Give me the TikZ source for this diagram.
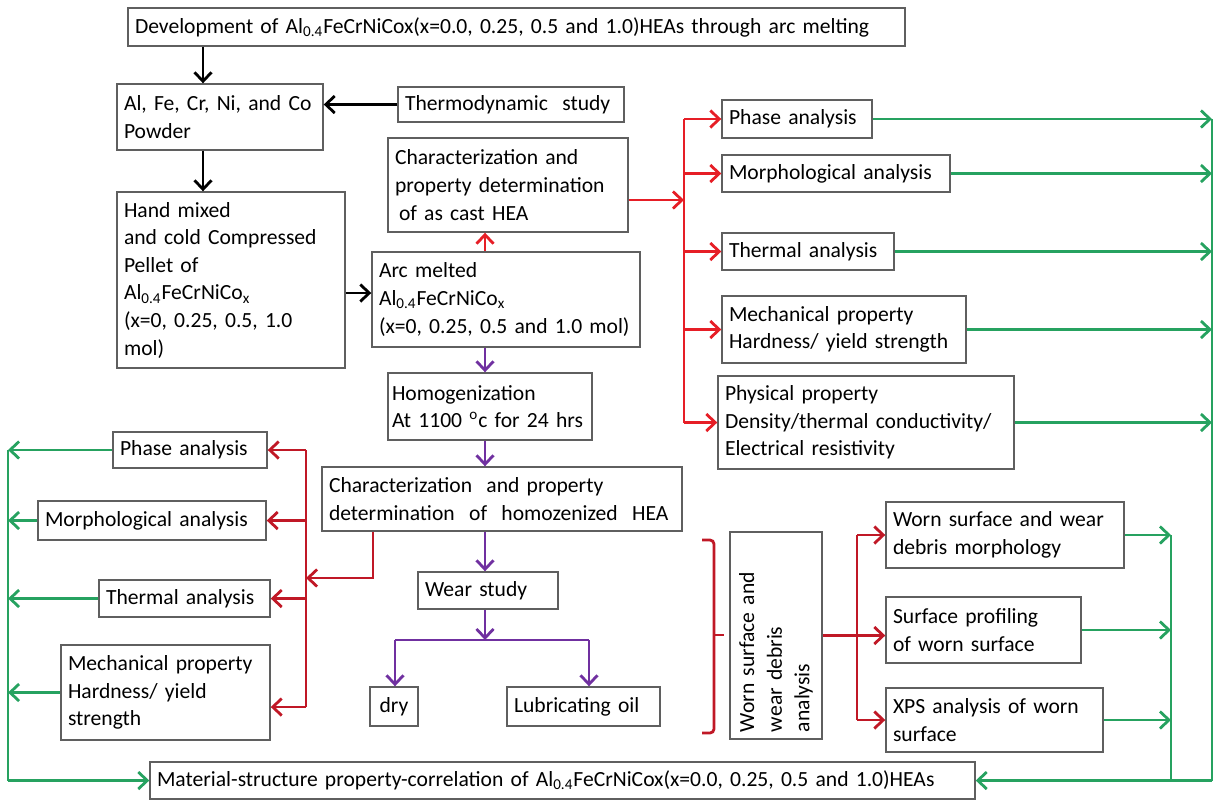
\documentclass[tikz,border=0pt]{standalone}
\usepackage{fontspec}
\setmainfont{Carlito}
\usetikzlibrary{arrows.meta,calc}
\definecolor{grn}{RGB}{38,162,96}
\definecolor{rd}{RGB}{230,30,38}
\definecolor{drd}{RGB}{192,24,38}
\definecolor{pur}{RGB}{112,48,160}
\definecolor{bord}{RGB}{95,95,95}
\newcommand{\mybox}[7][]{%
  \pgfmathsetmacro{\bw}{(#5-#3)*0.5}%
  \pgfmathsetmacro{\bh}{(#6-#4)*0.5}%
  \pgfmathsetmacro{\tw}{\bw-7}%
  \node[box,minimum width=\bw pt,minimum height=\bh pt,text width=\tw pt,#1] (#2) at ({(#3+#5)/2},{(#4+#6)/2}) {#7};%
}
\begin{document}
\begin{tikzpicture}[x=0.5pt,y=-0.5pt,
  box/.style={draw=bord,fill=white,line width=0.7pt,inner xsep=3.5pt,inner ysep=1pt,align=left,font=\fontsize{10.8}{13.8}\selectfont},
  tip/.style={-{Straight Barb[length=4.5pt,width=8.5pt]}},
  blk/.style={line width=1.4pt,black,tip},
  rdl/.style={line width=1.4pt,rd},
  rdc/.style={rdl,tip},
  drl/.style={line width=1.4pt,drd},
  drc/.style={drl,tip},
  purl/.style={line width=1.4pt,pur},
  purc/.style={purl,tip},
  grl/.style={line width=1.4pt,grn},
  grc/.style={grl,tip}]
\useasboundingbox (0,0) rectangle (1215,800);
% boxes
\mybox{dev}{128}{8}{905}{46}{Development of Al\textsubscript{0.4}FeCrNiCox(x=0.0, 0.25, 0.5 and 1.0)HEAs through arc melting}
\mybox{al}{117}{84}{323}{150}{Al, Fe, Cr, Ni, and Co\\Powder}
\mybox{thermo}{398}{87}{624}{122}{Thermodynamic\ \ study}
\mybox{hand}{117}{192}{345}{368}{Hand mixed\\and cold Compressed\\Pellet of\\Al\textsubscript{0.4}FeCrNiCo\textsubscript{x}\\(x=0, 0.25, 0.5, 1.0\\mol)}
\mybox{char1}{388}{138}{628}{232}{Characterization and\\property determination\\\hspace*{2pt}of as cast HEA}
\mybox{arc}{372}{252}{640}{347}{Arc melted\\Al\textsubscript{0.4}FeCrNiCo\textsubscript{x}\\(x=0, 0.25, 0.5 and 1.0 mol)}
\mybox[inner xsep=2pt,text width=98pt]{homog}{388}{373}{592}{440}{Homogenization\\At 1100 \textsuperscript{o}c for 24 hrs}
\mybox{char2}{322}{467}{682}{531}{Characterization\ \ and property\\determination\ \ of\ \ homozenized\ \ HEA}
\mybox{wear}{418}{572}{558}{609}{Wear study}
\mybox[align=center]{dry}{370}{687}{418}{726}{dry}
\mybox{lub}{507}{687}{660}{726}{Lubricating oil}
\mybox{pa1}{722}{100}{872}{138}{Phase analysis}
\mybox{ma1}{722}{155}{950}{192}{Morphological analysis}
\mybox{ta1}{722}{233}{894}{270}{Thermal analysis}
\mybox{mp1}{722}{296}{966}{363}{Mechanical property\\Hardness/ yield strength}
\mybox{pp1}{718}{376}{1014}{469}{Physical property\\Density/thermal conductivity/\\Electrical resistivity}
\mybox{pa2}{113}{432}{267}{468}{Phase analysis}
\mybox{ma2}{38}{501}{266}{540}{Morphological analysis}
\mybox{ta2}{99}{580}{270}{617}{Thermal analysis}
\mybox{mp2}{61}{645}{270}{740}{Mechanical property\\Hardness/ yield\\strength}
\node[box,rotate=90,minimum width=103.5pt,minimum height=46pt,text width=96.5pt] (wv) at (776,635.5) {Worn surface and\\wear debris\\analysis};
\mybox{ws}{886}{502}{1124}{568}{Worn surface and wear\\debris morphology}
\mybox{spf}{886}{597}{1081}{663}{Surface profiling\\of worn surface}
\mybox{xps}{886}{688}{1103}{752}{XPS analysis of worn\\surface}
\mybox{corr}{150}{762}{975}{799}{Material-structure property-correlation of Al\textsubscript{0.4}FeCrNiCox(x=0.0, 0.25, 0.5 and 1.0)HEAs}
% coordinates
\coordinate (x1) at (203,0);
\coordinate (y1) at (0,293);
\coordinate (x2) at (485,0);
\coordinate (sp1) at (395,640);
\coordinate (sp2) at (589,640);
\coordinate (rb) at (684,0);
\coordinate (y2) at (0,200);
\coordinate (gR) at (1212,0);
\coordinate (lb) at (306,0);
\coordinate (c2) at (373,578);
\coordinate (y3) at (0,707);
\coordinate (gL) at (8,0);
\coordinate (rb2) at (857,0);
\coordinate (g2) at (1171,0);
% black
\draw[blk] (x1 |- dev.south) -- (x1 |- al.north);
\draw[blk] (thermo.west) -- (thermo.west -| al.east);
\draw[blk] (x1 |- al.south) -- (x1 |- hand.north);
\draw[blk] (hand.east |- y1) -- (arc.west |- y1);
% centre column
\draw[rdc] (x2 |- arc.north) -- (x2 |- char1.south);
\draw[purc] (x2 |- arc.south) -- (x2 |- homog.north);
\draw[purc] (x2 |- homog.south) -- (x2 |- char2.north);
\draw[purc] (x2 |- char2.south) -- (x2 |- wear.north);
\draw[purc] (x2 |- wear.south) -- (x2 |- sp1);
\draw[purl] (sp1) -- (sp2);
\draw[purc] (sp1) -- (sp1 |- dry.north);
\draw[purc] (sp2) -- (sp2 |- lub.north);
% right red
\draw[rdc] (char1.east |- y2) -- (rb |- y2);
\draw[rdl] (rb |- pa1.west) -- (rb |- pp1.west);
\foreach \n in {pa1,ma1,ta1,mp1,pp1} \draw[rdc] (rb |- \n.west) -- (\n.west);
% right green
\foreach \n in {pa1,ma1,ta1,mp1,pp1} \draw[grc] (\n.east) -- (\n.east -| gR);
\draw[grl] (gR |- pa1.east) -- (gR |- corr.east);
\draw[grc] (gR |- corr.east) -- (corr.east);
% left red
\draw[drc] (c2 |- char2.south) -- (c2) -- (c2 -| lb);
\draw[drl] (lb |- pa2.east) -- (lb |- y3);
\foreach \n in {pa2,ma2,ta2} \draw[drc] (lb |- \n.east) -- (\n.east);
\draw[drc] (lb |- y3) -- (mp2.east |- y3);
% left green
\foreach \n in {pa2,ma2,ta2,mp2} \draw[grc] (\n.west) -- (\n.west -| gL);
\draw[grl] (gL |- pa2.west) -- (gL |- corr.west);
\draw[grc] (gL |- corr.west) -- (corr.west);
% bracket
\draw[drl,rounded corners=2pt] (702,540) -- (714,540) -- (714,733) -- (702,733);
\draw[drl] (714,635) -- (724,635);
% worn analysis
\draw[drc] (wv.south) -- (wv.south -| spf.west);
\draw[drl] (rb2 |- ws.west) -- (rb2 |- xps.west);
\draw[drc] (rb2 |- ws.west) -- (ws.west);
\draw[drc] (rb2 |- xps.west) -- (xps.west);
\foreach \n in {ws,spf,xps} \draw[grc] (\n.east) -- (\n.east -| g2);
\draw[grl] (g2 |- ws.east) -- (g2 |- corr.east);
\end{tikzpicture}
\end{document}
